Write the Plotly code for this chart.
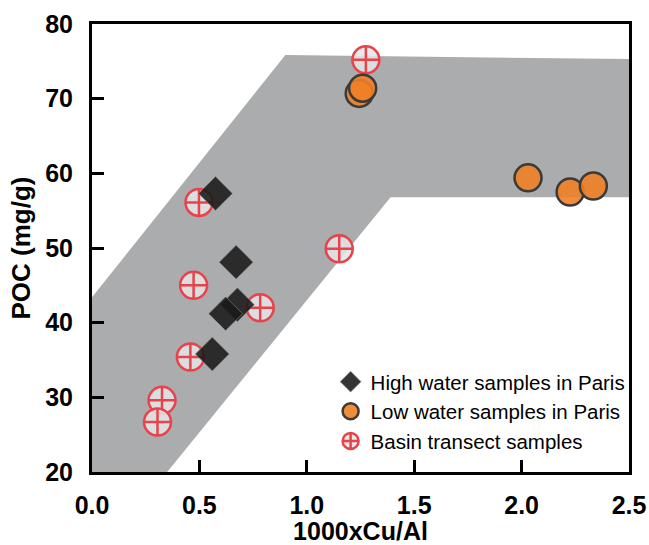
import plotly.graph_objects as go

# Envelope (gray band) polygon
band_x = [0.0, 0.0, 0.90, 2.5, 2.5, 1.39, 0.35]
band_y = [20.0, 43.4, 75.85, 75.3, 56.8, 56.8, 20.0]

# High water samples in Paris
high_x = [0.575, 0.671, 0.677, 0.622, 0.560]
high_y = [57.3, 48.1, 42.4, 41.2, 35.8]

# Low water samples in Paris
low_x = [1.244, 1.260, 2.030, 2.226, 2.334]
low_y = [70.7, 71.4, 59.4, 57.5, 58.3]

# Basin transect samples
basin_x = [1.275, 0.498, 0.473, 0.783, 0.458, 0.326, 0.305, 1.151]
basin_y = [75.2, 56.1, 45.0, 42.0, 35.4, 29.6, 26.7, 49.9]

x_ticks = [0.0, 0.5, 1.0, 1.5, 2.0, 2.5]
x_ticklabels = ["0.0", "0.5", "1.0", "1.5", "2.0", "2.5"]
y_ticks = [20, 30, 40, 50, 60, 70, 80]

FONT = "Liberation Sans, Arial, Helvetica, sans-serif"

fig = go.Figure()
fig.add_trace(go.Scatter(
    x=band_x, y=band_y, fill="toself", mode="lines",
    line=dict(width=0), fillcolor="#abacae", showlegend=False, hoverinfo="skip"))

fig.add_trace(go.Scatter(
    x=basin_x, y=basin_y, mode="markers", name="Basin transect samples", legendrank=3,
    marker=dict(symbol="circle-cross", size=27, color="rgba(228,229,232,0.85)",
                line=dict(color="#e8434b", width=2.5))))

fig.add_trace(go.Scatter(
    x=low_x, y=low_y, mode="markers", name="Low water samples in Paris", legendrank=2,
    marker=dict(symbol="circle", size=27, color="rgba(240,128,38,0.9)",
                line=dict(color="#3a3a3a", width=2.5))))

fig.add_trace(go.Scatter(
    x=high_x, y=high_y, mode="markers", name="High water samples in Paris", legendrank=1,
    marker=dict(symbol="diamond", size=26, color="rgba(25,25,25,0.88)",
                line=dict(color="#888888", width=0.6))))

axis_common = dict(
    showline=True, linecolor="black", linewidth=3, mirror=True,
    ticks="inside", ticklen=12, tickwidth=3, tickcolor="black",
    showgrid=False, zeroline=False, automargin=False,
    tickfont=dict(family=FONT, size=25, color="black", weight="bold"),
)

fig.update_xaxes(range=[0, 2.5], tickvals=x_ticks, ticktext=x_ticklabels,
                 ticklabelstandoff=9,
                 title=dict(text="1000xCu/Al", standoff=6,
                            font=dict(family=FONT, size=25, color="black", weight="bold")),
                 **axis_common)
fig.update_yaxes(range=[20, 80], tickvals=y_ticks, ticklabelstandoff=11,
                 title=dict(text="POC (mg/g)", standoff=8,
                            font=dict(family=FONT, size=26, color="black", weight="bold")),
                 **axis_common)

fig.update_layout(
    width=649, height=545,
    margin=dict(l=92, r=20, t=24, b=73),
    plot_bgcolor="white", paper_bgcolor="white",
    legend=dict(x=1.003, y=0.025, xanchor="right", yanchor="bottom",
                bgcolor="rgba(0,0,0,0)", font=dict(family=FONT, size=20.5, color="black"),
                tracegroupgap=0, itemwidth=30),
    showlegend=True,
)

fig.write_html("out.html", config={"displayModeBar": False},
               post_script="document.body.style.margin='0';document.body.style.overflow='hidden';")
